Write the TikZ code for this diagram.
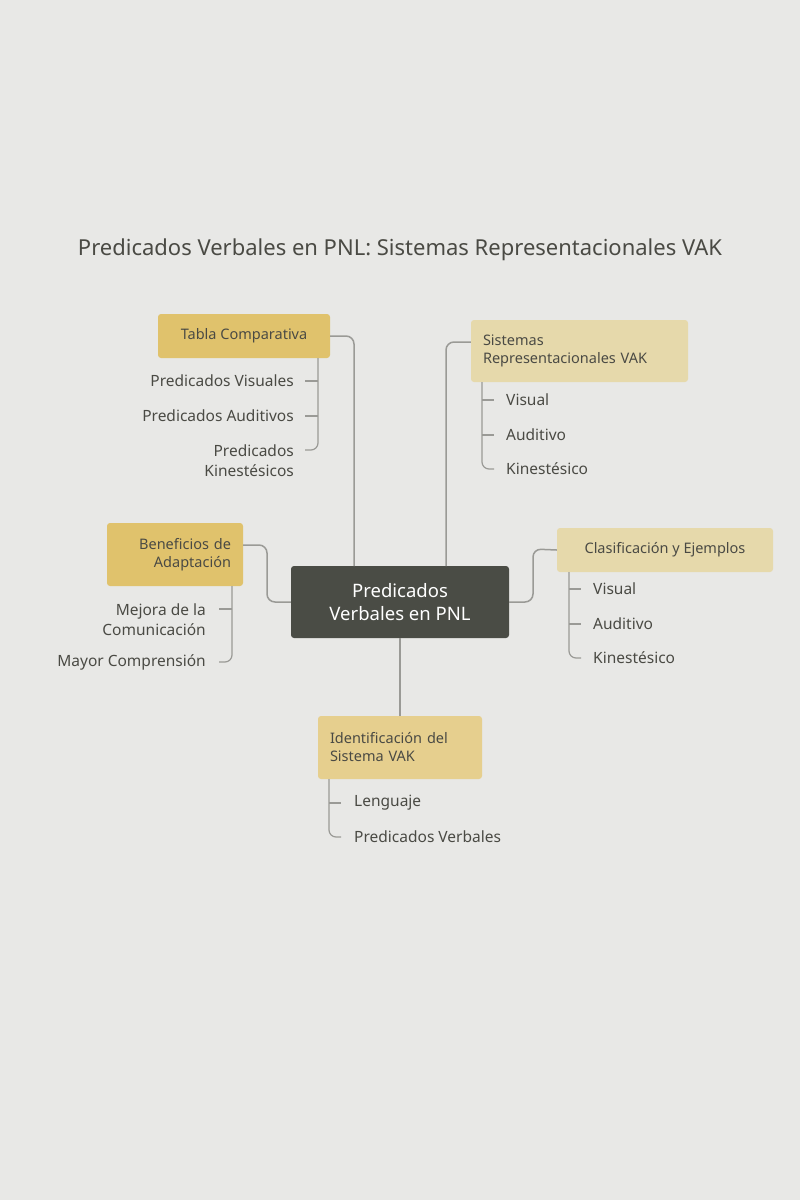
\documentclass[tikz,border=0pt]{standalone}
\usepackage{fontspec}
\setmainfont{Noto Sans}
\definecolor{bg}{HTML}{E8E8E6}
\definecolor{dark}{HTML}{4A4C45}
\definecolor{goldA}{HTML}{E0C26C}
\definecolor{goldB}{HTML}{E6D9AB}
\definecolor{goldC}{HTML}{E6CF8E}
\definecolor{ln}{HTML}{9A9A96}
\definecolor{tx}{HTML}{4A4A44}
\begin{document}
\begin{tikzpicture}[x=1pt,y=-1pt,
 box/.style={draw=none,rounded corners=3pt,inner sep=0pt,font=\bfseries\fontsize{14.5}{18}\selectfont,text=tx},
 leaf/.style={inner sep=0pt,font=\fontsize{15.5}{20}\selectfont,text=tx},
 con/.style={draw=ln,line width=1.5pt,rounded corners=8pt},
 br/.style={draw=ln,line width=1.2pt,rounded corners=7pt}]
\fill[bg] (0,0) rectangle (800,1200);
\useasboundingbox (0,0) rectangle (800,1200);
\node[font=\bfseries\fontsize{22}{26}\selectfont,text=tx] (title) at (400,250) {Predicados Verbales en PNL: Sistemas Representacionales VAK};
% boxes
\node[box,fill=dark,minimum width=218pt,minimum height=72pt,text=white,align=center,font=\bfseries\fontsize{18.5}{23}\selectfont] (c) at (400,602) {Predicados\\Verbales en PNL};
\node[box,fill=goldA,minimum width=172pt,minimum height=44pt] (t) at (244,336) {Tabla Comparativa};
\node[box,fill=goldB,minimum width=217pt,minimum height=62pt,align=left,text width=193pt] (s) at (579.5,351) {Sistemas\\Representacionales VAK};
\node[box,fill=goldA,minimum width=136pt,minimum height=63pt,align=right,text width=112pt] (b) at (175,554.5) {Beneficios de\\Adaptación};
\node[box,fill=goldB,minimum width=216pt,minimum height=44pt] (k) at (665,550) {Clasificación y Ejemplos};
\node[box,fill=goldC,minimum width=164pt,minimum height=63pt,align=left,text width=140pt] (i) at (400,747.5) {Identificación del\\Sistema VAK};
% connectors
\draw[con] (t.east) -- (354,336) -- (354,566);
\draw[con] (s.west |- 0,342) -- (446,342) -- (446,566);
\draw[con] (b.east |- 0,545) -- (267,545) -- (267,602) -- (c.west);
\draw[con] (k.west) -- (533,549) -- (533,602) -- (c.east);
\draw[con] (c.south) -- (i.north);
% leaves Tabla
\node[leaf,anchor=east] (t1) at (294,381) {Predicados Visuales};
\node[leaf,anchor=east] (t2) at (294,416) {Predicados Auditivos};
\node[leaf,anchor=east,align=right] (t3) at (294,461) {Predicados\\Kinestésicos};
\draw[br] (318,358) -- (318,450) -- (305,450);
\draw[br] (318,381) -- (305,381); \draw[br] (318,416) -- (305,416);
% leaves Sistemas
\node[leaf,anchor=west] (s1) at (506,400) {Visual};
\node[leaf,anchor=west] (s2) at (506,435) {Auditivo};
\node[leaf,anchor=west] (s3) at (506,469) {Kinestésico};
\draw[br] (482,382) -- (482,469) -- (494,469);
\draw[br] (482,400) -- (494,400); \draw[br] (482,435) -- (494,435);
% leaves Beneficios
\node[leaf,anchor=east,align=right] (b1) at (206,620) {Mejora de la\\Comunicación};
\node[leaf,anchor=east] (b2) at (206,662) {Mayor Comprensión};
\draw[br] (232,586) -- (232,662) -- (219,662);
\draw[br] (232,609) -- (219,609);
% leaves Clasificacion
\node[leaf,anchor=west] (k1) at (593,589) {Visual};
\node[leaf,anchor=west] (k2) at (593,624) {Auditivo};
\node[leaf,anchor=west] (k3) at (593,658) {Kinestésico};
\draw[br] (569,572) -- (569,658) -- (581,658);
\draw[br] (569,589) -- (581,589); \draw[br] (569,624) -- (581,624);
% leaves Identificacion
\node[leaf,anchor=west] (i1) at (354,803) {Lenguaje};
\node[leaf,anchor=west] (i2) at (354,837) {Predicados Verbales};
\draw[br] (329,779) -- (329,837) -- (341,837);
\draw[br] (329,803) -- (341,803);
\end{tikzpicture}
\end{document}
